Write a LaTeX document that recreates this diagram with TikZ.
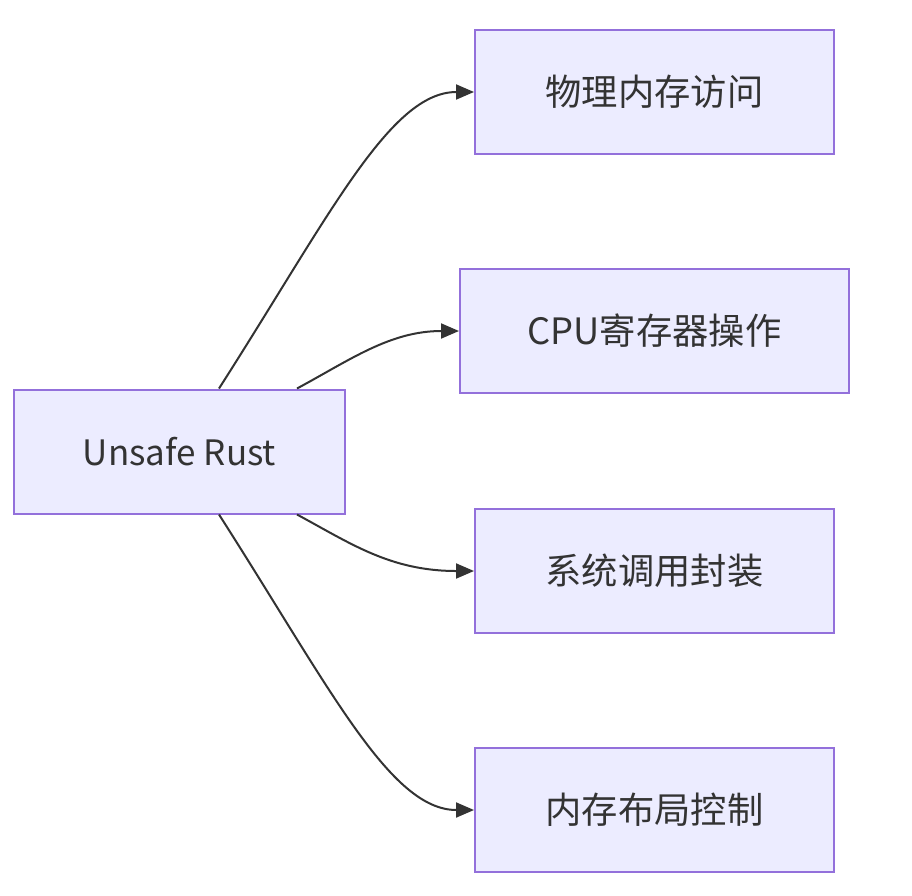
\documentclass[tikz,border=0pt]{standalone}
\usepackage{fontspec}
\setmainfont{Noto Sans CJK SC}
\usetikzlibrary{arrows.meta,calc}
\definecolor{boxfill}{HTML}{ECECFF}
\definecolor{boxline}{HTML}{9370DB}
\definecolor{txt}{HTML}{333333}
\tikzset{
  box/.style={draw=boxline, fill=boxfill, line width=2pt, minimum height=124pt, inner sep=0pt, text=txt, font=\fontsize{36.3}{42}\selectfont},
  conn/.style={draw=txt, line width=2pt, -{Triangle[length=18pt,width=15pt]}}
}
\begin{document}
\begin{tikzpicture}[x=1pt,y=-1pt]
\useasboundingbox (0,0) rectangle (912,895);
\node[box, minimum width=331pt, font=\fontsize{35}{42}\selectfont] (u) at (179.5,451.5) {Unsafe Rust};
\node[box, minimum width=359pt] (a) at (654.5,92) {物理内存访问};
\node[box, minimum width=389pt] (b) at (654.5,331) {CPU寄存器操作};
\node[box, minimum width=359pt] (c) at (654.5,571) {系统调用封装};
\node[box, minimum width=359pt] (d) at (654.5,810) {内存布局控制};
\coordinate (s1) at ([xshift=39.5pt]u.north);
\coordinate (s2) at ([xshift=117.5pt]u.north);
\coordinate (s3) at ([xshift=117.5pt]u.south);
\coordinate (s4) at ([xshift=39.5pt]u.south);
\draw[conn] (s1) .. controls (330,215) and (390,92) .. (a.west);
\draw[conn] (s2) .. controls (350,360) and (390,331) .. (b.west);
\draw[conn] (s3) .. controls (350,543) and (390,571) .. (c.west);
\draw[conn] (s4) .. controls (330,688) and (390,810) .. (d.west);
\end{tikzpicture}
\end{document}
